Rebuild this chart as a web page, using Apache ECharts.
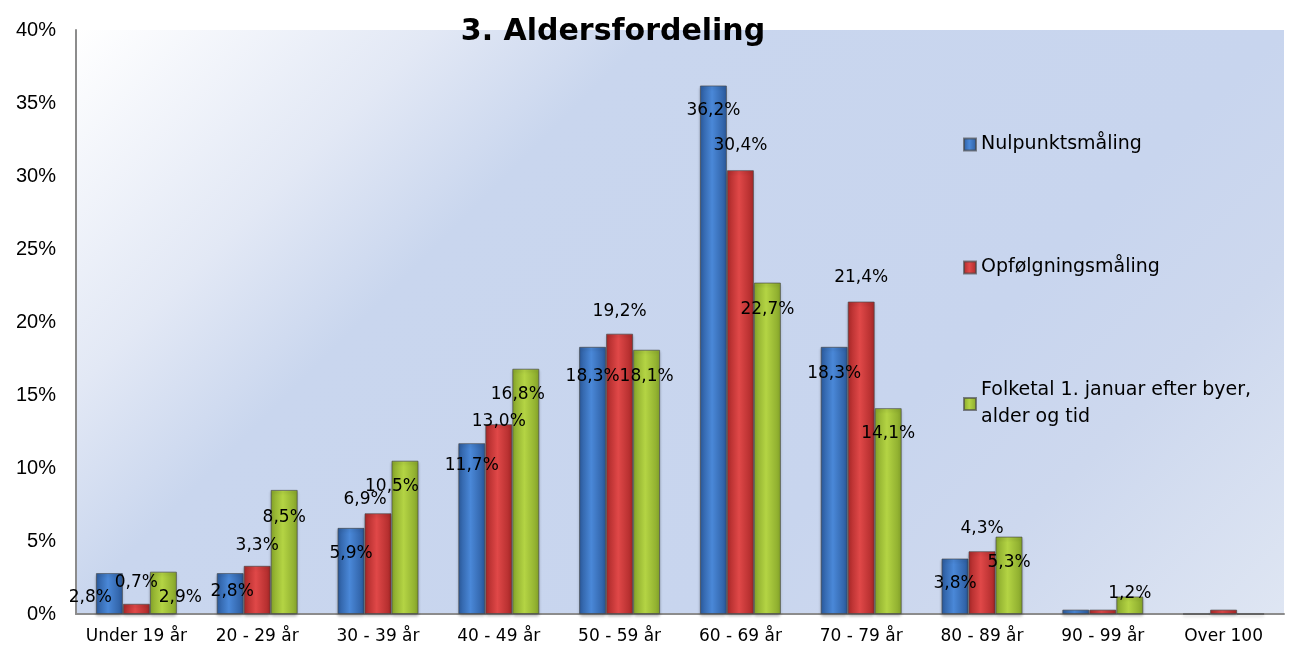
<!DOCTYPE html>
<html>
<head>
<meta charset="utf-8">
<script src="https://cdn.jsdelivr.net/npm/echarts@6/dist/echarts.min.js"></script>
<style>
  html, body { margin: 0; padding: 0; background: #fff; }
  #chart { width: 1294px; height: 651px; }
</style>
</head>
<body>
<div id="chart"></div>
<script>
// aldersgrupper
const categories = ['Under 19 år', '20 - 29 år', '30 - 39 år', '40 - 49 år', '50 - 59 år',
  '60 - 69 år', '70 - 79 år', '80 - 89 år', '90 - 99 år', 'Over 100'];
const seriesNames = ['Nulpunktsmåling', 'Opfølgningsmåling', 'Folketal 1. januar efter byer, alder og tid'];
const nulpunkt = [2.8, 2.8, 5.9, 11.7, 18.3, 36.2, 18.3, 3.8, 0.3, 0];
const opfolgning = [0.7, 3.3, 6.9, 13.0, 19.2, 30.4, 21.4, 4.3, 0.3, 0.3];
const folketal = [2.9, 8.5, 10.5, 16.8, 18.1, 22.7, 14.1, 5.3, 1.2, 0];
const yTicks = { min: 0, max: 40, interval: 5 };

// label offsets (Excel har flyttet etiketterne rundt)
const labelShift = [
  [[-19, 38], [2, 32], [0, 39], [0, 36], [0, 43], [0, 39], [0, 40], [0, 39], null, null],
  [[0, -8], [0, -7], [-13, 0], [0, 11], [0, -9], [0, -11], [0, -10], [0, -9], null, null],
  [[17, 39], [0, 41], [-13, 39], [-8, 39], [0, 40], [0, 40], [0, 39], [0, 39], [0, 11], null]
];

function barGrad(edge, mid) {
  return new echarts.graphic.LinearGradient(0, 0, 1, 0, [
    { offset: 0, color: edge },
    { offset: 0.45, color: mid },
    { offset: 1, color: edge }
  ]);
}
const colors = [
  barGrad('#2b5a9c', '#4a88d8'),
  barGrad('#a92828', '#e04848'),
  barGrad('#86a52a', '#b4d444')
];
const legendColors = ['#3a6fb8', '#c83838', '#9cbc36'];

function makeSeries(idx, values) {
  return {
    name: seriesNames[idx],
    type: 'bar',
    barWidth: 27,
    barGap: '0%',
    itemStyle: {
      color: colors[idx],
      borderColor: 'rgba(70,70,70,0.65)',
      borderWidth: 1,
      shadowColor: 'rgba(0,0,0,0.25)',
      shadowBlur: 3,
      shadowOffsetY: 2
    },
    data: values.map((v, i) => {
      const sh = labelShift[idx][i];
      return {
        value: v,
        label: sh ? { show: true, offset: sh } : { show: false }
      };
    }),
    label: {
      position: 'top',
      distance: 5,
      color: '#000',
      fontFamily: 'DejaVu Sans',
      fontSize: 17,
      formatter: p => p.value.toFixed(1).replace('.', ',') + '%'
    }
  };
}

const chart = echarts.init(document.getElementById('chart'));
chart.setOption({
  animation: false,
  color: legendColors,
  title: {
    text: '3. Aldersfordeling',
    left: 608,
    textAlign: 'center',
    top: 12,
    textStyle: { fontFamily: 'DejaVu Sans', fontWeight: 'bold', fontSize: 30, color: '#000' }
  },
  legend: {
    orient: 'vertical',
    left: 958,
    top: 126,
    itemGap: 96,
    itemWidth: 12,
    itemHeight: 12,
    icon: 'rect',
    textStyle: { fontFamily: 'DejaVu Sans', fontSize: 19, color: '#000', lineHeight: 27 },
    formatter: name => name.replace('byer, ', 'byer,\n')
  },
  grid: {
    left: 76, right: 10, top: 30, bottom: 37,
    show: true,
    borderWidth: 0,
    backgroundColor: new echarts.graphic.LinearGradient(76, 30, 976, 930, [
      { offset: 0, color: '#ffffff' },
      { offset: 0.2, color: '#e2e8f5' },
      { offset: 0.32, color: '#c9d6ee' },
      { offset: 0.67, color: '#c8d5ee' },
      { offset: 0.8, color: '#cdd8ee' },
      { offset: 1, color: '#dfe6f3' }
    ], true)
  },
  xAxis: {
    type: 'category',
    data: categories,
    axisTick: { show: false },
    axisLine: { lineStyle: { color: '#8c8c8c', width: 2 } },
    axisLabel: { interval: 0, color: '#000', fontFamily: 'DejaVu Sans', fontSize: 17, margin: 14 }
  },
  yAxis: {
    type: 'value',
    min: yTicks.min,
    max: yTicks.max,
    interval: yTicks.interval,
    splitLine: { show: false },
    axisTick: { show: false },
    axisLine: { show: true, lineStyle: { color: '#8c8c8c', width: 2 } },
    axisLabel: { color: '#000', fontFamily: 'Liberation Sans', fontSize: 20, margin: 20, formatter: '{value}%' }
  },
  series: [
    makeSeries(0, nulpunkt),
    makeSeries(1, opfolgning),
    makeSeries(2, folketal)
  ]
});
</script>
</body>
</html>
